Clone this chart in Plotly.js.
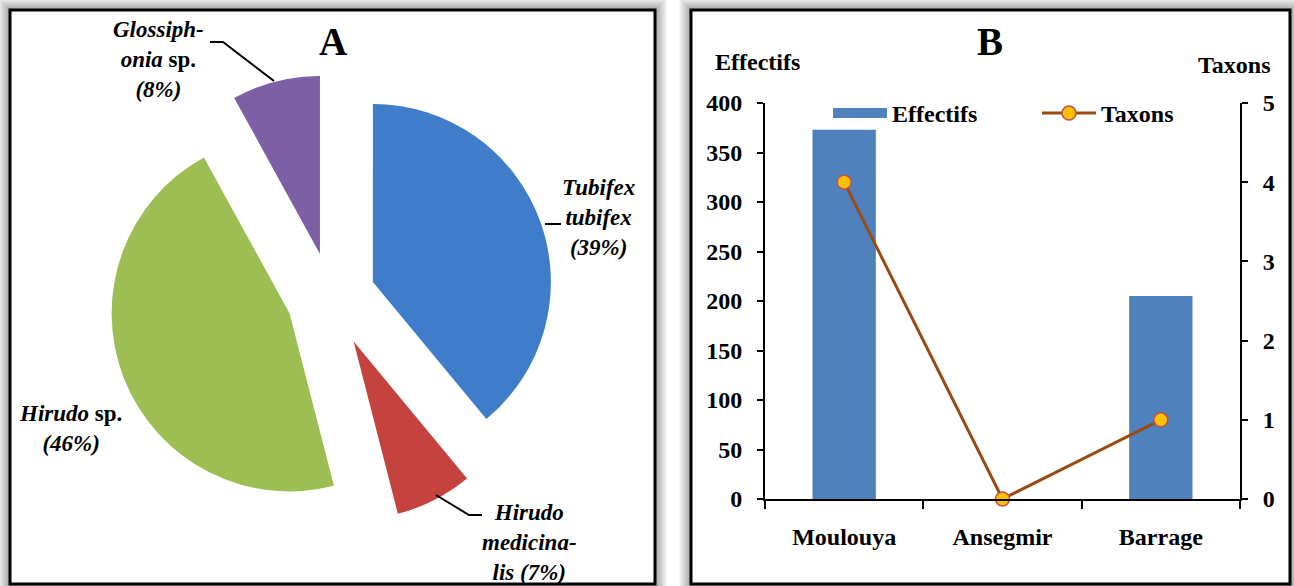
<!DOCTYPE html>
<html><head><meta charset="utf-8">
<script src="https://cdn.plot.ly/plotly-3.0.1.min.js"></script>
<style>html,body{margin:0;padding:0;background:#fff}#chart{width:1294px;height:586px}</style>
</head><body><div id="chart"></div>
<script>
// ---- data: panel A (pie) ----
const taxa = ['Tubifex tubifex', 'Hirudo medicinalis', 'Hirudo sp.', 'Glossiphonia sp.'];
const taxaPct = [39, 7, 46, 8];
const taxaLabels = [
  '<b><i>Tubifex</i></b><br><b><i>tubifex</i></b><br><b><i>(39%)</i></b>',
  '<b><i>Hirudo</i></b><br><b><i>medicina-</i></b><br><b><i>lis (7%)</i></b>',
  '<b><i>Hirudo</i> sp.</b><br><b><i>(46%)</i></b>',
  '<b><i>Glossiph-</i></b><br><b><i>onia</i> sp.</b><br><b><i>(8%)</i></b>'
];
// ---- data: panel B (bars + line) ----
const sites = ['Moulouya', 'Ansegmir', 'Barrage'];
const effectifs = [373, 0, 205];
const taxons = [4, 0, 1];

// ---- styling ----
const W = 1294, H = 586;
const SERIF = '"Liberation Serif", "Times New Roman", serif';
const px = v => v / W;
const py = v => 1 - v / H;
const taxaColors = ['#3f7dca', '#c4433e', '#9cbe52', '#7d5fa6'];
const taxaPull = [0.25, 0.28, 0.25, 0.25];
const labelPos = [[598, 217], [529, 542], [70, 428], [158, 60]];
const barColor = '#4F81BD';

const pieCx = 331, pieCy = 297, pieHalf = 178 * 1.28;

const traces = [
  {
    type: 'pie', values: taxaPct, labels: taxa, sort: false, direction: 'clockwise', rotation: 0,
    pull: taxaPull, marker: {colors: taxaColors, line: {width: 0}},
    textinfo: 'none', hoverinfo: 'label+percent', showlegend: false,
    domain: {x: [px(pieCx - pieHalf), px(pieCx + pieHalf)], y: [py(pieCy + pieHalf), py(pieCy - pieHalf)]}
  },
  {
    type: 'bar', x: sites, y: effectifs, name: 'Effectifs', marker: {color: barColor},
    xaxis: 'x', yaxis: 'y', showlegend: false, legendgroup: 'eff'
  },
  // legend entry for the bars (wide flat swatch, as in the original)
  {
    type: 'scatter', mode: 'lines', x: [null], y: [null], name: 'Effectifs', legendgroup: 'eff',
    line: {color: barColor, width: 11}, xaxis: 'x', yaxis: 'y', hoverinfo: 'skip'
  },
  {
    type: 'scatter', mode: 'lines+markers', x: sites, y: taxons, name: 'Taxons',
    line: {color: '#9A4B12', width: 3},
    marker: {color: '#FFC000', size: 14, line: {color: '#C0504D', width: 1.5}},
    xaxis: 'x', yaxis: 'y2', cliponaxis: false
  }
];

// panel frames with soft shadow
const shapes = [];
function panel(x0, y0, x1, y1) {
  for (let k = 12; k >= 1; k--) {
    shapes.push({type: 'rect', xref: 'paper', yref: 'paper', layer: 'below',
      x0: px(x0 - k), x1: px(x1 + k), y0: py(y1 + k), y1: py(y0 - k),
      line: {width: 0}, fillcolor: 'rgba(0,0,0,0.03)'});
  }
  shapes.push({type: 'rect', xref: 'paper', yref: 'paper', layer: 'below',
    x0: px(x0), x1: px(x1), y0: py(y1), y1: py(y0),
    line: {width: 3, color: '#000'}, fillcolor: '#fff'});
}
panel(10, 10, 655, 584);
panel(691, 10, 1290, 584);

// leader lines for the pie labels
function leader(pts) {
  let d = '';
  pts.forEach((p, i) => { d += (i ? ' L ' : 'M ') + px(p[0]) + ',' + py(p[1]); });
  shapes.push({type: 'path', xref: 'paper', yref: 'paper', path: d, line: {color: '#000', width: 2}});
}
leader([[210, 42], [223, 42], [274, 81]]);
leader([[545, 224], [561, 224]]);
leader([[436, 495], [469, 515], [482, 515]]);

const annotations = [];
taxaLabels.forEach((t, i) => {
  annotations.push({text: t, xref: 'paper', yref: 'paper', x: px(labelPos[i][0]), y: py(labelPos[i][1]),
    xanchor: 'center', yanchor: 'middle', showarrow: false, align: 'center',
    font: {family: SERIF, size: 23, color: '#000'}});
});
annotations.push({text: '<b>A</b>', xref: 'paper', yref: 'paper', x: px(333), y: py(42), xanchor: 'center', yanchor: 'middle', showarrow: false, font: {family: SERIF, size: 39, color: '#000'}});
annotations.push({text: '<b>B</b>', xref: 'paper', yref: 'paper', x: px(990), y: py(42), xanchor: 'center', yanchor: 'middle', showarrow: false, font: {family: SERIF, size: 39, color: '#000'}});
annotations.push({text: '<b>Effectifs</b>', xref: 'paper', yref: 'paper', x: px(757), y: py(62), xanchor: 'center', yanchor: 'middle', showarrow: false, font: {family: SERIF, size: 24, color: '#000'}});
annotations.push({text: '<b>Taxons</b>', xref: 'paper', yref: 'paper', x: px(1234), y: py(65), xanchor: 'center', yanchor: 'middle', showarrow: false, font: {family: SERIF, size: 24, color: '#000'}});

const tickFont = {family: SERIF, size: 24, color: '#000', weight: 'bold'};
const layout = {
  width: W, height: H, margin: {l: 0, r: 0, t: 0, b: 0},
  paper_bgcolor: '#fff', plot_bgcolor: 'rgba(0,0,0,0)',
  font: {family: SERIF, color: '#000'},
  bargap: 0.6,
  xaxis: {domain: [px(765), px(1240)], type: 'category', range: [-0.5, 2.5],
    showline: true, linecolor: '#000', linewidth: 2, ticks: 'outside', tickson: 'boundaries',
    ticklen: 8, tickwidth: 2, tickcolor: '#000', showgrid: false, zeroline: false,
    tickfont: tickFont, ticklabelstandoff: 15, fixedrange: true},
  yaxis: {domain: [py(499), py(103)], range: [0, 400], dtick: 50,
    showline: true, linecolor: '#000', linewidth: 2, ticks: 'outside', ticklen: 6, tickwidth: 2,
    tickcolor: '#000', showgrid: false, zeroline: false, tickfont: tickFont, ticklabelstandoff: 10},
  yaxis2: {overlaying: 'y', side: 'right', range: [0, 5], dtick: 1,
    showline: true, linecolor: '#000', linewidth: 2, ticks: 'outside', ticklen: 6, tickwidth: 2,
    tickcolor: '#000', showgrid: false, zeroline: false, tickfont: tickFont, ticklabelstandoff: 10},
  legend: {orientation: 'h', x: px(828), y: py(91), xanchor: 'left', yanchor: 'top',
    bgcolor: 'rgba(0,0,0,0)', itemwidth: 54, entrywidth: 140, traceorder: 'normal',
    font: {family: SERIF, size: 24, color: '#000', weight: 'bold'}},
  shapes: shapes, annotations: annotations
};

Plotly.newPlot('chart', traces, layout, {displayModeBar: false, staticPlot: true});
</script>
</body></html>
